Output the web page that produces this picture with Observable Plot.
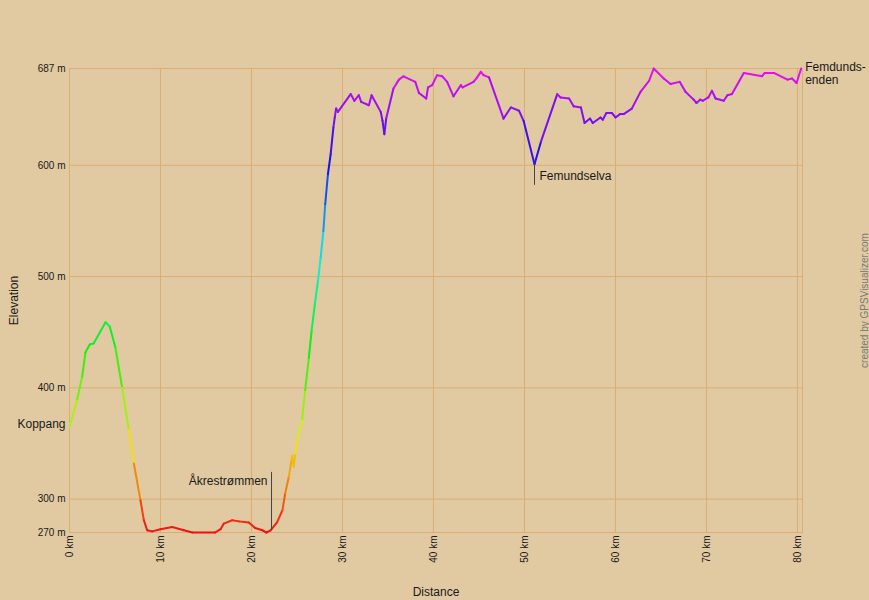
<!DOCTYPE html>
<html>
<head>
<meta charset="utf-8">
<script src="https://cdn.jsdelivr.net/npm/d3@7"></script>
<script src="https://cdn.jsdelivr.net/npm/@observablehq/plot@0.6"></script>
<style>
  html, body { margin: 0; padding: 0; background: #e1c9a1; }
  #chart { width: 869px; height: 600px; }
</style>
</head>
<body>
<div id="chart"></div>
<script>
// ---- data ----
const distanceKm = [
  0, 0.85, 1.39, 1.76, 2.23, 2.67, 3.96, 4.43, 5.05, 5.79,
  6.52, 7.07, 7.8, 8.17, 8.54, 9.09, 10, 11.28, 12.56, 13.5,
  16.0, 16.6, 16.96, 17.88, 18.6, 19.7, 20.4, 21.2, 21.65, 22.1,
  22.8, 23.4, 23.7, 24.1, 24.4, 24.47, 24.65, 24.8, 25.1, 25.57,
  25.9, 26.3, 26.6, 26.96, 27.3, 27.6, 27.9, 28.1, 28.4, 28.7,
  29.0, 29.15, 29.3, 29.5, 30.9, 31.3, 31.8, 32.05, 32.9, 33.2,
  34.2, 34.4, 34.6, 34.8, 35.6, 36.2, 36.7, 38.0, 38.4, 39.2,
  39.4, 39.85, 40.4, 40.95, 41.5, 42.2, 43.0, 43.2, 44.4, 44.8,
  45.2, 45.5, 46.1, 47.7, 48.5, 49.4, 49.9, 51.1, 51.8, 53.6,
  53.96, 54.9, 55.4, 56.2, 56.6, 57.2, 57.5, 58.35, 58.6, 59.0,
  59.6, 60.0, 60.5, 60.9, 61.8, 62.75, 63.7, 64.2, 65.3, 66.05,
  67.05, 67.7, 68.6, 68.9, 69.3, 69.6, 70.2, 70.6, 71.0, 71.9,
  72.3, 72.8, 74.1, 76.1, 76.4, 77.4, 78.9, 79.4, 79.9, 80.4
];
const elevationM = [
  365, 390, 410, 432, 439, 440, 459, 455, 436, 400,
  362, 332, 299, 281, 272, 271, 273, 275, 272, 270,
  270, 273, 278, 281, 280, 279, 274, 272, 270, 272,
  279, 290, 305, 320, 335, 339, 329, 341, 356, 372,
  398, 427, 451, 475, 496, 517, 541, 565, 592, 610,
  634, 643, 651, 648, 664, 658, 663, 657, 654, 663,
  648, 640, 628, 642, 669, 677, 680, 675, 665, 660,
  670, 672, 681, 680, 675, 662, 672, 670, 675, 679,
  684, 681, 679, 642, 652, 649, 640, 601, 621, 664,
  661, 660, 653, 652, 638, 642, 638, 643, 641, 647,
  647, 643, 646, 646, 651, 666, 676, 687, 678, 673,
  675, 666, 659, 656, 659, 658, 661, 667, 660, 658,
  663, 664, 683, 680, 683, 683, 677, 678, 674, 687
];
const xTicks = [0, 10, 20, 30, 40, 50, 60, 70, 80];
const yTicks = [270, 300, 400, 500, 600, 687];

// annotations
const labelNames = ["Koppang", "Åkrestrømmen", "Femundselva", "Femdunds-\nenden"];
const labelKm    = [0, 22.2, 51.1, 80.4];
const labelElev  = [367, 316, 590, 687];
const markerKm   = [22.2, 51.1];
const markerLow  = [272, 582];
const markerHigh = [324, 601];

// ---- derived tables ----
const segments = distanceKm.slice(1).map((d, i) => ({
  x1: distanceKm[i], y1: elevationM[i],
  x2: d, y2: elevationM[i + 1],
  e: (elevationM[i] + elevationM[i + 1]) / 2
}));
const labels = labelNames.map((name, i) => ({name, km: labelKm[i], elev: labelElev[i]}));
const markers = markerKm.map((km, i) => ({km, lo: markerLow[i], hi: markerHigh[i]}));

const gridColor = "#dcae72";
const font = "'Liberation Sans', Arial, sans-serif";

const chart = Plot.plot({
  width: 869,
  height: 600,
  marginLeft: 69,
  marginRight: 67,
  marginTop: 68,
  marginBottom: 68,
  style: {background: "#e1c9a1", fontFamily: font, fontSize: "10px", color: "#1a1a1a"},
  x: {domain: [0, 80.55], ticks: xTicks, tickFormat: d => `${d} km`, tickRotate: -90,
      tickSize: 0, tickPadding: 3, label: null},
  y: {domain: [270, 687], ticks: yTicks, tickFormat: d => `${d} m`,
      tickSize: 0, tickPadding: 4, label: null},
  color: {type: "linear", domain: [270, 687],
          interpolate: t => d3.hsl(t * 300, 0.88, 0.5).formatHex()},
  marks: [
    Plot.gridX(xTicks, {stroke: gridColor, strokeOpacity: 1, strokeWidth: 1}),
    Plot.gridY(yTicks, {stroke: gridColor, strokeOpacity: 1, strokeWidth: 1}),
    Plot.frame({stroke: gridColor, strokeWidth: 1}),
    Plot.link(segments, {x1: "x1", y1: "y1", x2: "x2", y2: "y2", stroke: "e",
      strokeWidth: 2, strokeLinecap: "round"}),
    Plot.ruleX(markers, {x: "km", y1: "lo", y2: "hi", stroke: "#444", strokeWidth: 1}),
    Plot.text(labels.filter((d, i) => i === 0 || i === 1), {x: "km", y: "elev", text: "name",
      textAnchor: "end", dx: -4, fontSize: 12, fill: "#1a1a1a"}),
    Plot.text(labels.filter((d, i) => i === 2), {x: "km", y: "elev", text: "name",
      textAnchor: "start", dx: 5, fontSize: 12, fill: "#1a1a1a"}),
    Plot.text(labels.filter((d, i) => i === 3), {x: "km", y: "elev", text: "name",
      textAnchor: "start", dx: 4, dy: 5, fontSize: 12, fill: "#1a1a1a", lineHeight: 1.05}),
    Plot.text(["Distance"], {text: d => d, frameAnchor: "bottom", textAnchor: "middle",
      dy: 63, fontSize: 12, fill: "#1a1a1a"}),
    Plot.text(["Elevation"], {text: d => d, frameAnchor: "left", textAnchor: "middle",
      dx: -55, rotate: -90, fontSize: 12, fill: "#1a1a1a"}),
    Plot.text(["created by GPSVisualizer.com"], {text: d => d, frameAnchor: "right", textAnchor: "middle",
      dx: 62, rotate: -90, fontSize: 10, fill: "#7a7a7a"})
  ]
});
document.getElementById("chart").appendChild(chart);
</script>
</body>
</html>
